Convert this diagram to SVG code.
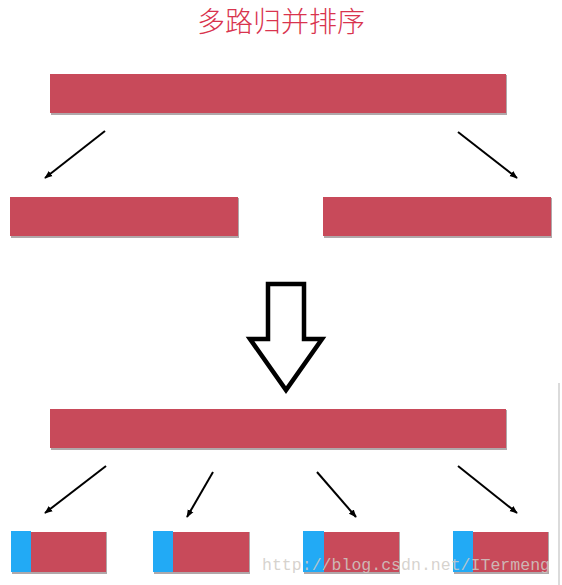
<svg xmlns="http://www.w3.org/2000/svg" width="562" height="585" viewBox="0 0 562 585">
<defs>
<style>
.bar{fill:#C84A5A}
.sh{fill:#B0A8AA}
.blue{fill:#22AAF5}
.conn{stroke:#000;stroke-width:2;fill:none;marker-end:url(#ah)}
.title{font-family:"Noto Sans CJK SC","Noto Sans CJK JP",sans-serif;font-size:28px;font-weight:300;fill:#D9344E}
.wm{font-family:"Liberation Mono",monospace;font-size:17px;fill:#CFCBC6;fill-opacity:0.85}
</style>
<marker id="ah" viewBox="0 0 10 10" refX="9" refY="5" markerWidth="4" markerHeight="4" orient="auto" markerUnits="strokeWidth">
<path d="M0,1 L10,5 L0,9 Z" fill="#000"/>
</marker>
</defs>
<rect width="562" height="585" fill="#fff"/>
<text class="title" x="281" y="32" text-anchor="middle">多路归并排序</text>

<g id="top-bar"><rect class="sh" x="51" y="75" width="456" height="40"/><rect class="bar" x="50" y="74" width="456" height="39"/></g>
<g id="mid-left"><rect class="sh" x="11" y="198" width="228" height="40"/><rect class="bar" x="10" y="197" width="228" height="39"/></g>
<g id="mid-right"><rect class="sh" x="324" y="198" width="228" height="40"/><rect class="bar" x="323" y="197" width="228" height="39"/></g>

<g id="big-arrow"><path d="M268,284 L304,284 L304,339 L322,339 L286,390 L250,339 L268,339 Z" fill="#fff" stroke="#000" stroke-width="4.5" stroke-linejoin="miter"/></g>

<g id="bottom-bar"><rect class="sh" x="51" y="410" width="456" height="40"/><rect class="bar" x="50" y="409" width="456" height="39"/></g>

<g id="block1"><rect class="sh" x="12" y="532" width="95" height="42"/><rect class="bar" x="11" y="532" width="95" height="40"/><rect class="blue" x="11" y="531" width="20" height="41"/></g>
<g id="block2"><rect class="sh" x="154" y="532" width="96" height="42"/><rect class="bar" x="153" y="532" width="96" height="40"/><rect class="blue" x="153" y="531" width="20" height="41"/></g>
<g id="block3"><rect class="sh" x="304" y="532" width="96" height="42"/><rect class="bar" x="303" y="532" width="96" height="40"/><rect class="blue" x="303" y="531" width="21" height="41"/></g>
<g id="block4"><rect class="sh" x="454" y="532" width="95" height="42"/><rect class="bar" x="453" y="532" width="95" height="40"/><rect class="blue" x="453" y="531" width="20" height="41"/></g>

<g id="connectors">
<line class="conn" x1="105" y1="131" x2="45" y2="178"/>
<line class="conn" x1="458" y1="132" x2="517" y2="178"/>
<line class="conn" x1="106" y1="466" x2="45" y2="513"/>
<line class="conn" x1="213" y1="472" x2="187" y2="517"/>
<line class="conn" x1="317" y1="472" x2="356" y2="517"/>
<line class="conn" x1="458" y1="466" x2="517" y2="513"/>
</g>

<line x1="559" y1="383" x2="559" y2="585" stroke="#CFCFCF" stroke-width="1.5"/>
<text class="wm" x="262" y="570" textLength="288" lengthAdjust="spacingAndGlyphs">http://blog.csdn.net/ITermeng</text>
</svg>
